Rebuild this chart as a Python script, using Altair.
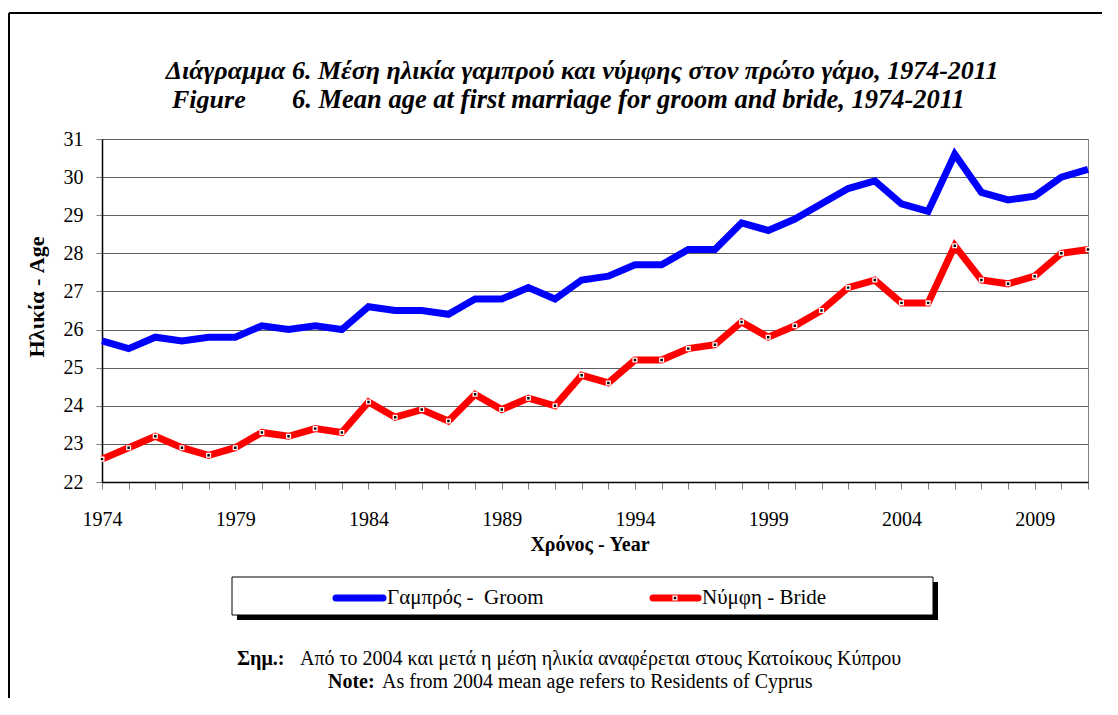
import altair as alt
import pandas as pd

years = list(range(1974, 2012))
groom = [25.7, 25.5, 25.8, 25.7, 25.8, 25.8, 26.1, 26.0, 26.1, 26.0,
         26.6, 26.5, 26.5, 26.4, 26.8, 26.8, 27.1, 26.8, 27.3, 27.4,
         27.7, 27.7, 28.1, 28.1, 28.8, 28.6, 28.9, 29.3, 29.7, 29.9,
         29.3, 29.1, 30.6, 29.6, 29.4, 29.5, 30.0, 30.2]
bride = [22.6, 22.9, 23.2, 22.9, 22.7, 22.9, 23.3, 23.2, 23.4, 23.3,
         24.1, 23.7, 23.9, 23.6, 24.3, 23.9, 24.2, 24.0, 24.8, 24.6,
         25.2, 25.2, 25.5, 25.6, 26.2, 25.8, 26.1, 26.5, 27.1, 27.3,
         26.7, 26.7, 28.2, 27.3, 27.2, 27.4, 28.0, 28.1]
y_ticks = list(range(22, 32))
x_label_years = [1974, 1979, 1984, 1989, 1994, 1999, 2004, 2009]

title_gr = "Διάγραμμα 6.  Μέση ηλικία γαμπρού και νύμφης στον πρώτο γάμο, 1974-2011"
title_en_a = "Figure"
title_en_b = "6.  Mean age at first marriage for groom and bride, 1974-2011"
y_title = "Ηλικία - Age"
x_title = "Χρόνος - Year"
leg_groom = "Γαμπρός -\u00a0 Groom"
leg_bride = "Νύμφη - Bride"
note_gr_b = "Σημ.:"
note_gr = "Από το 2004 και μετά η μέση ηλικία αναφέρεται στους Κατοίκους Κύπρου"
note_en_b = "Note:"
note_en = "As from 2004 mean age refers to Residents of Cyprus"

FONT = "Liberation Serif"
W, H = 986, 343

gdf = pd.DataFrame({"year": years, "age": groom})
bdf = pd.DataFrame({"year": years, "age": bride})
one = pd.DataFrame({"k": [0]})

lab_expr = "indexof([" + ",".join(str(v) for v in x_label_years) + "], datum.value) >= 0 ? format(datum.value, 'd') : ''"

xenc = alt.X("year:Q", scale=alt.Scale(domain=[1974, 2011], nice=False, zero=False),
             axis=alt.Axis(values=years, labelExpr=lab_expr, labelOverlap=False,
                           format="d", grid=False, tickColor="#808080", tickSize=7,
                           domainColor="black", domainWidth=1.5, labelFont=FONT,
                           labelFontSize=20, labelColor="black", labelPadding=20,
                           labelFlush=False, title=None))
yenc = alt.Y("age:Q", scale=alt.Scale(domain=[22, 31], nice=False, zero=False),
             axis=alt.Axis(values=y_ticks, format="d", grid=True, gridColor="#5f5f5f",
                           labelOverlap=False, labelFlush=False,
                           tickColor="#808080", tickSize=6, domainColor="black",
                           domainWidth=1.5, labelFont=FONT, labelFontSize=20,
                           labelColor="black", labelPadding=13, title=None))

groom_line = alt.Chart(gdf).mark_line(color="#0000FF", strokeWidth=7).encode(x=xenc, y=yenc)
bride_line = alt.Chart(bdf).mark_line(color="#FF0000", strokeWidth=7).encode(x=xenc, y=yenc)
bride_pts = alt.Chart(bdf).mark_square(size=14, fill="black", stroke="white",
                                       strokeWidth=1.3, opacity=1).encode(x=xenc, y=yenc)


def txt(s, x, y, size=17, weight="normal", style="normal", align="left", angle=0):
    kw = dict(text=s, font=FONT, fontSize=size, fontWeight=weight, fontStyle=style,
              align=align, baseline="middle", color="black")
    if angle:
        kw["angle"] = angle
    return alt.Chart(one).mark_text(**kw).encode(x=alt.value(x), y=alt.value(y))


def rule(x, x2, y, y2, color="black", w=2):
    return alt.Chart(one).mark_rule(color=color, strokeWidth=w).encode(
        x=alt.value(x), x2=alt.value(x2), y=alt.value(y), y2=alt.value(y2))


frame = [rule(-93, 2000, -126, -126), rule(-93, -93, -126, 1000)]

titles = [
    txt(title_gr, 480, -68, size=26, weight="bold", style="italic", align="center"),
    txt(title_en_a, 70, -39, size=26, weight="bold", style="italic"),
    txt(title_en_b, 190, -39, size=26.5, weight="bold", style="italic"),
    txt(y_title, -65, 158, size=22, weight="bold", align="center", angle=270),
    txt(x_title, 488, 406, size=20, weight="bold", align="center"),
]

shadow = alt.Chart(one).mark_rect(color="black").encode(
    x=alt.value(135), x2=alt.value(836), y=alt.value(443), y2=alt.value(481))
box = alt.Chart(one).mark_rect(fill="white", stroke="black", strokeWidth=1).encode(
    x=alt.value(130), x2=alt.value(831), y=alt.value(438), y2=alt.value(476))
leg = [
    alt.Chart(one).mark_rule(color="#0000FF", strokeWidth=7, strokeCap="round").encode(
        x=alt.value(234), x2=alt.value(281), y=alt.value(459)),
    txt(leg_groom, 285, 459, size=21),
    alt.Chart(one).mark_rule(color="#FF0000", strokeWidth=7, strokeCap="round").encode(
        x=alt.value(551), x2=alt.value(596), y=alt.value(459)),
    alt.Chart(one).mark_square(size=14, fill="black", stroke="white", strokeWidth=1.3,
                               opacity=1).encode(x=alt.value(573), y=alt.value(459)),
    txt(leg_bride, 600, 459, size=21),
]

notes = [
    txt(note_gr_b, 135, 520, size=20, weight="bold"),
    txt(note_gr, 198, 520, size=20),
    txt(note_en_b, 226, 543, size=20, weight="bold"),
    txt(note_en, 280, 543, size=20),
]

chart = alt.layer(
    groom_line, bride_line, bride_pts, *frame, *titles, shadow, box, *leg, *notes
).properties(
    width=W, height=H,
    autosize=alt.AutoSizeParams(type="none"),
    padding={"left": 94, "top": 131, "right": 14, "bottom": 216},
    background="white",
).configure_view(stroke="#808080", strokeWidth=1).configure_axis(labelOverlap=False)

chart.save("out.html", embed_options={"renderer": "svg", "actions": False})
